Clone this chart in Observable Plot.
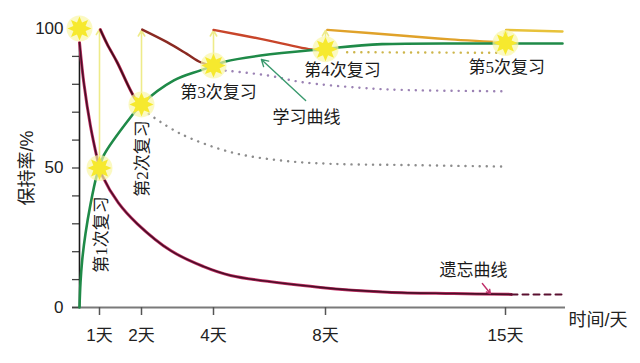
<!DOCTYPE html>
<html><head><meta charset="utf-8">
<script src="https://cdn.jsdelivr.net/npm/d3@7"></script>
<script src="https://cdn.jsdelivr.net/npm/@observablehq/plot@0.6"></script>
<style>body{margin:0;background:#fff}</style>
</head><body><div id="chart"></div>
<script>
// x = days, y = retention %
const xTicks = [1, 2, 4, 8, 15];
const yTicks = [0, 10, 20, 30, 40, 50, 60, 70, 80, 90, 100];
const yLabelled = [0, 50, 100];
// non-uniform time axis: break points (days) and their relative spacing
const axisBreaks = [0, 1, 2, 4, 8, 15, 17];
const axisSpacing = [0, 20, 62, 134, 246, 426, 486];

const forgetCurve = [[0,95],[0.215,80.6],[0.55,65],[0.885,53.4],[1,50],[1.064,47.3],[1.45,37.5],[1.9,30],[2.81,20.4],[3.72,14.7],[4.61,11.5],[7.82,7.2],[10.41,5.5],[12.98,5.0],[15.2,4.7]];
const forgetTail = [[15.2,4.7],[17,4.7]];
const learnCurve = [[0,0],[0.05,9],[0.135,17],[0.3,26.5],[0.55,37],[0.85,47],[1,50],[1.1,54.5],[1.74,68.2],[2,72.8],[2.9,81.4],[3.64,85],[4,86.7],[4.43,88.2],[5.68,90.3],[7.46,92.2],[8,92.6],[8.5,93.2],[10.2,94.4],[15,94.6],[16.9,94.6]];
const review1 = [[1.02,99.6],[1.18,94.5],[1.42,87.9],[1.857,74.7],[2,72.8]];
const review2 = [[2.02,99.6],[2.71,95.1],[3.26,90.9],[3.64,87.9],[4,86.7]];
const review3 = [[4.0,99.5],[5.68,96.3],[7.57,92.4],[8,92.4]];
const review4 = [[8.07,99.5],[10.92,97.5],[12.86,96.1],[14.68,95.1],[15,94.8]];
const review5 = [[15.02,99.5],[16.9,98.9]];
const decay2 = [[2.2,69.4],[3.08,62.3],[4.61,55.7],[6.39,52.7],[8.18,51.5],[10.9,51.1],[15,50.5]];
const decay3 = [[4.43,84.9],[5.92,83.2],[7.14,80.8],[9.4,78.7],[10.92,78],[15,77.5]];
const decay4 = [[8.84,91.5],[14.7,91.3]];
const starDays = [0, 1, 2, 4, 8, 15];
const starVals = [100, 50, 72.8, 86.7, 92.6, 94.8];
const reviewDays = [1, 2, 4, 8, 15];
const reviewFrom = [50, 72.8, 86.7, 92.6, 95];
const reviewTo = [99.8, 99.3, 99.3, 99.3, 99.3];
const reviewLabels = ["第1次复习","第2次复习","第3次复习","第4次复习","第5次复习"];
const reviewLabelX = [1.05, 2.03, 4.18, 8.66, 15.04];
const reviewLabelY = [26.2, 53.4, 77.1, 84.9, 86];
const reviewLabelRot = [-90, -90, 0, 0, 0];

const pts = a => a.map(([x, y]) => ({x, y}));
const stars = starDays.map((d, i) => ({x: d, y: starVals[i]}));
const reviews = reviewDays.map((d, i) => ({x: d, y1: reviewFrom[i], y2: reviewTo[i]}));
const rLabels = reviewLabels.map((t, i) => ({t, x: reviewLabelX[i], y: reviewLabelY[i], r: reviewLabelRot[i]}));
const timeWarp = d3.scaleLinear().domain(axisBreaks).range(axisSpacing);

const star8 = {
  draw(ctx, size) {
    const R = Math.sqrt(size / Math.PI), r = R * 0.55, n = 8;
    for (let i = 0; i < 2 * n; i++) {
      const a = Math.PI * i / n - Math.PI / 2, rr = i % 2 ? r : R;
      const px = rr * Math.cos(a), py = rr * Math.sin(a);
      i ? ctx.lineTo(px, py) : ctx.moveTo(px, py);
    }
    ctx.closePath();
  }
};

const serif = "'Liberation Serif','Noto Sans CJK SC',serif";
const sans = "'Liberation Sans','Noto Sans CJK SC',sans-serif";
const C = "catmull-rom";

const chart = Plot.plot({
  width: 640, height: 363,
  marginLeft: 79, marginRight: 75, marginTop: 28, marginBottom: 56,
  x: {transform: d => timeWarp(d), domain: [0, 486], range: [79, 565]},
  y: {domain: [0, 100], range: [307, 28]},
  style: {fontFamily: sans, fontSize: "17px", color: "#222", background: "#fff"},
  marks: [
    Plot.ruleY([0], {stroke: "#7a7a7a", strokeWidth: 2, insetLeft: -7}),
    Plot.axisX(xTicks, {tickSize: 8, tickPadding: 13, tickFormat: d => d + "天", stroke: "#555", strokeWidth: 1.5, fontSize: 17, label: null}),
    Plot.axisY(yTicks, {tickSize: 7, tickPadding: 9, tickFormat: d => yLabelled.includes(d) ? d : "", stroke: "#444", strokeWidth: 1.3, fontSize: 17, label: null}),
    Plot.ruleX([0], {y1: 0, y2: 95, stroke: "#1a1a1a", strokeWidth: 1.6}),
    Plot.text(["保持率/%"], {x: -2.6, y: 50, rotate: -90, fontSize: 18, fill: "#222"}),
    Plot.text(["时间/天"], {x: 17.1, y: -4.7, textAnchor: "start", fontSize: 18, fill: "#222"}),
    Plot.arrow(reviews, {x: "x", y1: "y1", y2: "y2", stroke: "#eeeb8a", strokeWidth: 1.6, headLength: 6}),
    Plot.line(pts(decay2), {x: "x", y: "y", curve: C, stroke: "#8c8c8c", strokeWidth: 2.4, strokeDasharray: "0.1 7", strokeLinecap: "round"}),
    Plot.line(pts(decay3), {x: "x", y: "y", curve: C, stroke: "#9b82b4", strokeWidth: 2.4, strokeDasharray: "0.1 7", strokeLinecap: "round"}),
    Plot.line(pts(decay4), {x: "x", y: "y", curve: C, stroke: "#cdb54a", strokeWidth: 2.4, strokeDasharray: "0.1 7", strokeLinecap: "round"}),
    Plot.line(pts(forgetCurve), {x: "x", y: "y", curve: C, stroke: "#c43266", strokeWidth: 3}),
    Plot.line(pts(forgetCurve), {x: "x", y: "y", curve: C, stroke: "#4a0f28", strokeWidth: 1.6}),
    Plot.line(pts(forgetTail), {x: "x", y: "y", stroke: "#5a1030", strokeWidth: 2, strokeDasharray: "6 5"}),
    Plot.line(pts(review1), {x: "x", y: "y", curve: C, stroke: "#b8284e", strokeWidth: 3}),
    Plot.line(pts(review1), {x: "x", y: "y", curve: C, stroke: "#3e0d1e", strokeWidth: 1.6}),
    Plot.line(pts(review2), {x: "x", y: "y", curve: C, stroke: "#8a2a22", strokeWidth: 2.4}),
    Plot.line(pts(review3), {x: "x", y: "y", curve: C, stroke: "#c8452a", strokeWidth: 2.4}),
    Plot.line(pts(review4), {x: "x", y: "y", curve: C, stroke: "#e0a22a", strokeWidth: 2.4}),
    Plot.line(pts(review5), {x: "x", y: "y", curve: C, stroke: "#e8c23a", strokeWidth: 2.4}),
    Plot.line(pts(learnCurve), {x: "x", y: "y", curve: C, stroke: "#1f8a48", strokeWidth: 2.6}),
    Plot.dot(stars, {x: "x", y: "y", r: 13, fill: "#faf6a8", fillOpacity: 0.7, stroke: "none"}),
    Plot.dot(stars, {x: "x", y: "y", r: 12, symbol: star8, fill: "#f6e92e", stroke: "none"}),
    Plot.text(rLabels, {x: "x", y: "y", text: "t", rotate: "r", fontFamily: serif, fontSize: 17, fill: "#1a1a1a"}),
    Plot.arrow([{x1: 7.29, y1: 74.2, x2: 5.71, y2: 88.9}], {x1: "x1", y1: "y1", x2: "x2", y2: "y2", stroke: "#3a9a6e", strokeWidth: 1.4, headLength: 8}),
    Plot.text(["学习曲线"], {x: 7.32, y: 68.1, fontFamily: serif, fontSize: 17, fill: "#1a1a1a"}),
    Plot.arrow([{x1: 14.1, y1: 8.6, x2: 14.41, y2: 5.0}], {x1: "x1", y1: "y1", x2: "x2", y2: "y2", stroke: "#c0306a", strokeWidth: 1.4, headLength: 6}),
    Plot.text(["遗忘曲线"], {x: 13.76, y: 13.3, fontSize: 17, fill: "#1a1a1a"})
  ]
});
document.getElementById("chart").append(chart);
</script></body></html>
